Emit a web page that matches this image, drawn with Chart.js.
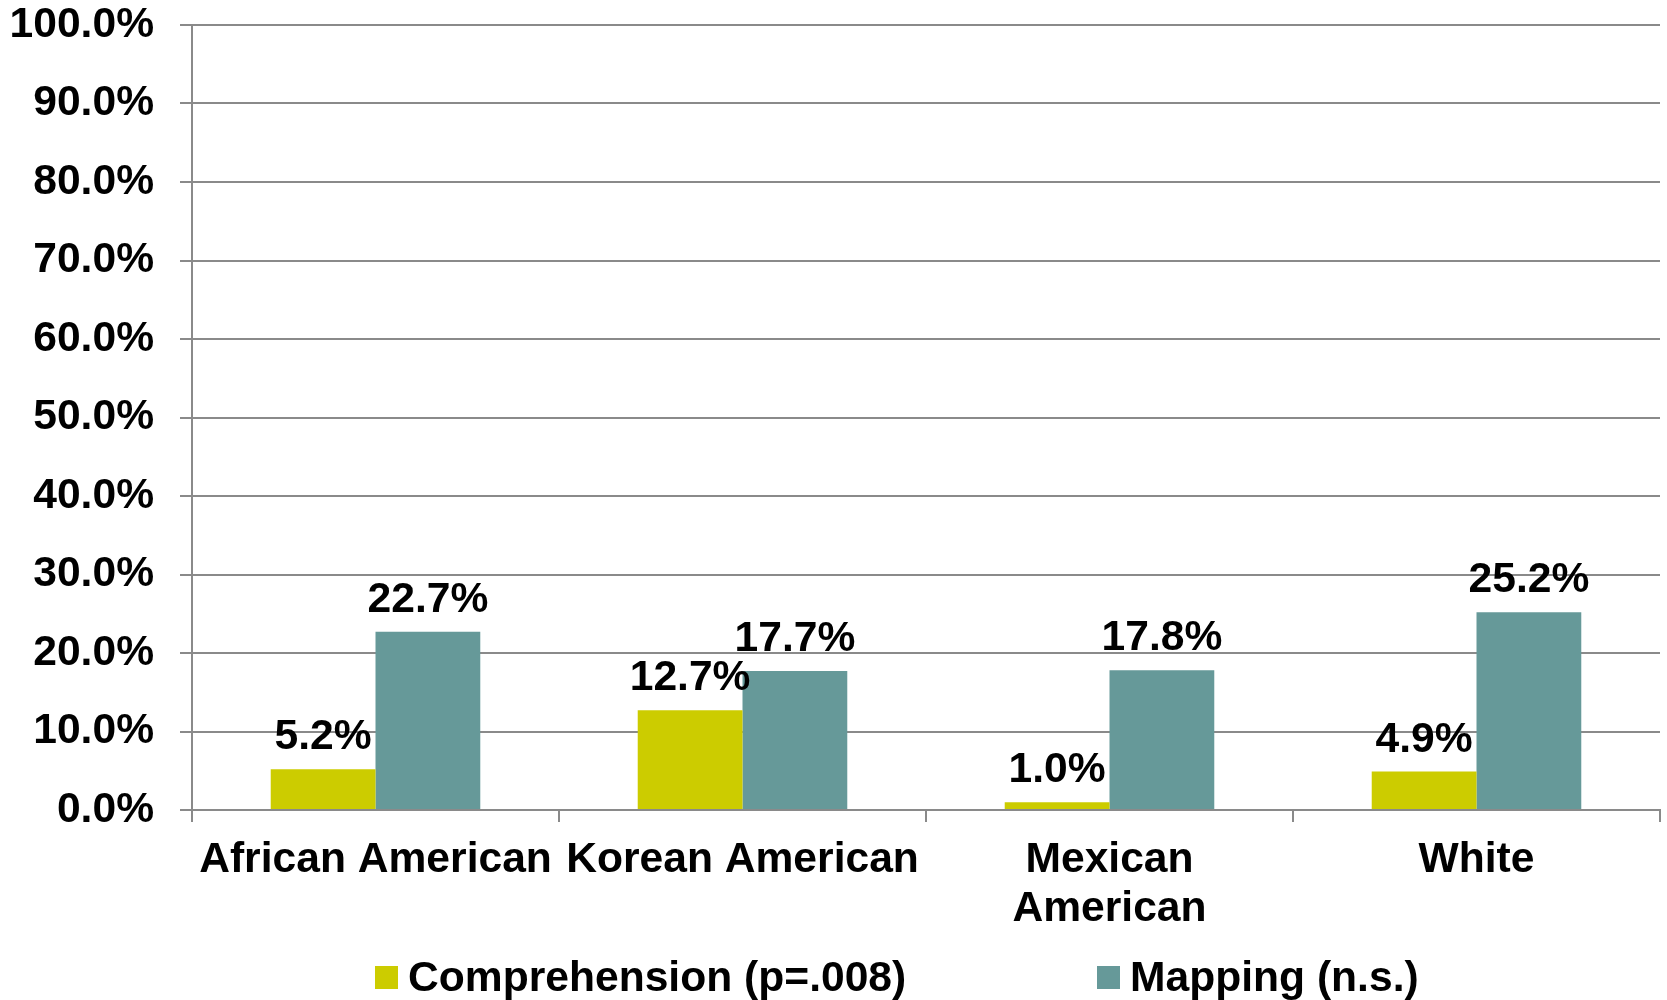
<!DOCTYPE html>
<html lang="en">

<head>
    <meta charset="UTF-8">
    <title>Comprehension and Mapping</title>
    <script src="https://cdn.jsdelivr.net/npm/chart.js"></script>
    <style>
        body {
            margin: 0;
            padding: 0;
            background-color: #fff;
        }

        .chart-box {
            width: 1667px;
            height: 1000px;
        }
    </style>
</head>

<body>
    <div class="chart-box">
        <canvas id="groupChart"></canvas>
    </div>

    <script>
        var categories = ['African American', 'Korean American', ['Mexican', 'American'], 'White'];
        var comprehension = [5.2, 12.7, 1.0, 4.9];
        var mapping = [22.7, 17.7, 17.8, 25.2];
        var seriesNames = ['Comprehension (p=.008)', 'Mapping (n.s.)'];
        var yTicks = [0, 10, 20, 30, 40, 50, 60, 70, 80, 90, 100];

        var fontFamily = '"Liberation Sans", Arial, sans-serif';
        var fontSize = 42.6;
        var gridColor = '#8a8a8a';

        // value labels above each bar
        var barLabels = {
            id: 'barLabels',
            afterDatasetsDraw: function (chart) {
                var ctx = chart.ctx;
                ctx.save();
                ctx.font = 'bold ' + fontSize + 'px ' + fontFamily;
                ctx.fillStyle = '#000';
                ctx.textAlign = 'center';
                ctx.textBaseline = 'alphabetic';
                chart.data.datasets.forEach(function (ds, i) {
                    chart.getDatasetMeta(i).data.forEach(function (bar, j) {
                        ctx.fillText(ds.data[j].toFixed(1) + '%', bar.x, bar.y - 20);
                    });
                });
                ctx.restore();
            }
        };

        // legend row along the bottom edge
        var bottomLegend = {
            id: 'bottomLegend',
            afterDraw: function (chart) {
                var ctx = chart.ctx;
                var starts = [375, 1097];
                ctx.save();
                ctx.font = 'bold ' + fontSize + 'px ' + fontFamily;
                ctx.textAlign = 'left';
                ctx.textBaseline = 'alphabetic';
                chart.data.datasets.forEach(function (ds, i) {
                    ctx.fillStyle = ds.backgroundColor;
                    ctx.fillRect(starts[i], 966, 23, 23);
                    ctx.fillStyle = '#000';
                    ctx.fillText(ds.label, starts[i] + 33, 991);
                });
                ctx.restore();
            }
        };

        var ctx = document.getElementById('groupChart').getContext('2d');
        new Chart(ctx, {
            type: 'bar',
            data: {
                labels: categories,
                datasets: [{
                    label: seriesNames[0],
                    data: comprehension,
                    backgroundColor: '#cccc00'
                }, {
                    label: seriesNames[1],
                    data: mapping,
                    backgroundColor: '#669999'
                }]
            },
            options: {
                responsive: true,
                maintainAspectRatio: false,
                animation: false,
                layout: {
                    padding: { left: 0, right: 7, top: 0, bottom: 68 }
                },
                datasets: {
                    bar: { barPercentage: 1, categoryPercentage: 0.571 }
                },
                plugins: {
                    legend: { display: false },
                    tooltip: { enabled: false }
                },
                scales: {
                    x: {
                        grid: {
                            drawOnChartArea: false,
                            drawTicks: true,
                            tickLength: 12,
                            color: gridColor,
                            lineWidth: 2
                        },
                        border: { color: gridColor, width: 2 },
                        ticks: {
                            color: '#000',
                            padding: 14,
                            maxRotation: 0,
                            autoSkip: false,
                            font: { family: fontFamily, size: fontSize, weight: 'bold', lineHeight: 1.15 }
                        },
                        afterFit: function (scale) { scale.height = 122; }
                    },
                    y: {
                        min: 0,
                        max: 100,
                        afterBuildTicks: function (scale) {
                            scale.ticks = yTicks.map(function (v) { return { value: v }; });
                        },
                        grid: {
                            color: gridColor,
                            lineWidth: 2,
                            tickLength: 12
                        },
                        border: { color: gridColor, width: 2 },
                        ticks: {
                            color: '#000',
                            padding: 26,
                            font: { family: fontFamily, size: fontSize, weight: 'bold', lineHeight: 1.2 },
                            callback: function (v) { return v.toFixed(1) + '%'; }
                        },
                        afterFit: function (scale) {
                            scale.width = 192;
                            scale.paddingTop = 25;
                            scale.paddingBottom = 0;
                        }
                    }
                }
            },
            plugins: [barLabels, bottomLegend]
        });
    </script>
</body>

</html>
